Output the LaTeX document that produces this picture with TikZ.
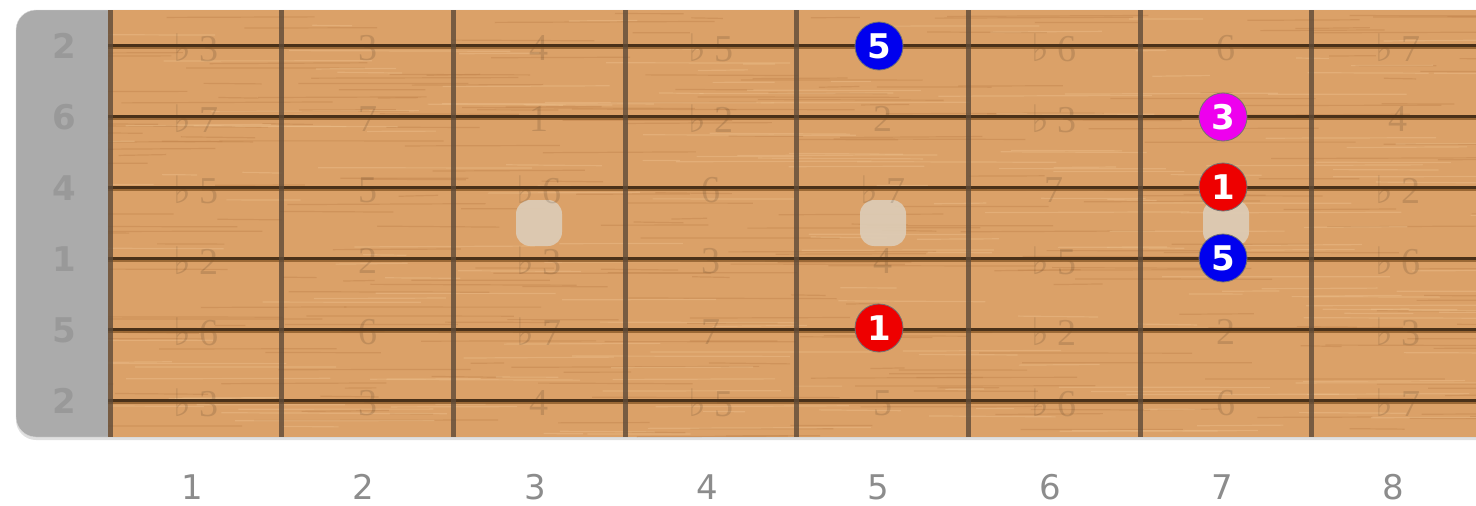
\documentclass[tikz,border=0pt]{standalone}
\usepackage{fontspec}
\usepackage{pdfrender}
\usepackage{tikz}
\usetikzlibrary{positioning,calc}
\setmainfont{Liberation Serif}
\newfontfamily\dejavu{DejaVu Sans}
\definecolor{fa}{HTML}{DBA168}
\definecolor{favilagos}{HTML}{EDC08C}
\definecolor{fasotet}{HTML}{C2844C}
\definecolor{hurszin}{HTML}{4A3119}
\definecolor{hurarny}{HTML}{8C5B2A}
\definecolor{bundszin}{HTML}{5E4A38}
\definecolor{keret}{HTML}{ABABAB}
\definecolor{gyongy}{HTML}{DDCDB8}
\definecolor{korv}{HTML}{2A2A2A}
\definecolor{pirosp}{HTML}{EE0000}
\definecolor{kekp}{HTML}{0000EE}
\definecolor{lilap}{HTML}{EE00EE}
\newcommand{\fl}{{\dejavu ♭}\kern8pt}
\newcommand{\kontur}[1]{\textpdfrender{TextRenderingMode=FillStroke,LineWidth=2.6pt,StrokeColor=korv,FillColor=white}{#1}}
% pottyok alatt nem latszik hangnev
\foreach \k in {15,27,37,47,55} {\expandafter\gdef\csname rejt\k\endcsname{}}
\tikzset{
  hur/.style={draw=hurszin,line width=3pt},
  hurarnyek/.style={draw=hurarny,line width=2.5pt,opacity=0.8},
  bundvas/.style={draw=bundszin,line width=5pt,opacity=0.8},
  erezet/.style={line width=1.2pt,opacity=0.45},
  jelzo/.style={rectangle,fill=gyongy,opacity=0.9,rounded corners=14pt,minimum width=46pt,minimum height=46pt},
  halvany/.style={text=black,text opacity=0.12,inner sep=0pt,font=\fontsize{38}{40}\selectfont},
  hurcimke/.style={text=black!40,font=\dejavu\bfseries\fontsize{34}{36}\selectfont},
  bundszam/.style={text=black!45,font=\dejavu\fontsize{34}{36}\selectfont},
  hang/.style={circle,minimum size=48pt,inner sep=0pt,draw=black!55,line width=0.8pt,text=white,
               font=\dejavu\bfseries\fontsize{34}{36}\selectfont},
}

\begin{document}
\begin{tikzpicture}[x=1pt,y=-1pt]
  \useasboundingbox (0,0) rectangle (1476,506);
  % nyak
  \fill[black!12,rounded corners=20pt] (16,13) rectangle (1500,440);
  \fill[keret,draw=black!15,rounded corners=20pt] (16,10) rectangle (1500,437);
  \fill[fa] (108,10) rectangle (1476,437);
  \begin{scope}
    \clip (108,10) rectangle (1476,437);
    \pgfmathsetseed{11}
    \foreach \i in {1,...,260}{
      \pgfmathsetmacro{\gx}{8+rnd*1500}
      \pgfmathsetmacro{\gy}{10+rnd*427}
      \pgfmathsetmacro{\gl}{30+rnd*220}
      \draw[erezet,draw=fasotet] (\gx,\gy) -- ++(\gl,rnd*2-1);
    }
    \foreach \i in {1,...,200}{
      \pgfmathsetmacro{\gx}{8+rnd*1500}
      \pgfmathsetmacro{\gy}{10+rnd*427}
      \pgfmathsetmacro{\gl}{30+rnd*200}
      \draw[erezet,draw=favilagos] (\gx,\gy) -- ++(\gl,rnd*2-1);
    }
  \end{scope}
  % jelzopontok
  \node[jelzo] (j3) at (539,223) {};
  \node[jelzo] (j5) at (883,223) {};
  \node[jelzo] (j7) at (1226,223) {};
  % halvany hangnevek
  \foreach \s/\y/\sor in {1/45/{\fl3,3,4,\fl5,5,\fl6,6,\fl7},2/116/{\fl7,7,1,\fl2,2,\fl3,3,4},
      3/187/{\fl5,5,\fl6,6,\fl7,7,1,\fl2},4/258/{\fl2,2,\fl3,3,4,\fl5,5,\fl6},
      5/329/{\fl6,6,\fl7,7,1,\fl2,2,\fl3},6/400/{\fl3,3,4,\fl5,5,\fl6,6,\fl7}}
    \foreach \t [count=\f] in \sor {
      \pgfmathtruncatemacro{\kod}{10*\s+\f}
      \ifcsname rejt\kod\endcsname\else
        \node[halvany] (c\s-\f) at ({110+171.7*(\f-0.5)},\y+3) {\t};
      \fi
    }
  % hurok es bundok
  \foreach \y in {45,116,187,258,329,400}{
    \draw[hurarnyek] (108,\y+2.5) -- (1476,\y+2.5);
    \draw[hur] (108,\y) -- (1476,\y);
  }
  \foreach \k in {0,...,7} \draw[bundvas] ({110+171.7*\k},10) -- ({110+171.7*\k},437);
  \foreach \s/\y/\t in {1/45/2,2/116/6,3/187/4,4/258/1,5/329/5,6/400/2}
    \node[hurcimke] (h\s) at (64,\y+1) {\t};
  \foreach \f in {1,...,8} \node[bundszam] (b\f) at ({106+171.7*(\f-0.5)},487) {\f};
  % hangok
  \node[hang,fill=kekp] (d1) at (879,46) {\kontur{5}};
  \node[hang,fill=lilap] (d2) at (1223,117) {\kontur{3}};
  \node[hang,fill=pirosp] (d3) at (1223,187) {\kontur{1}};
  \node[hang,fill=kekp] (d4) at (1223,258) {\kontur{5}};
  \node[hang,fill=pirosp] (d5) at (879,328) {\kontur{1}};
\end{tikzpicture}
\end{document}
